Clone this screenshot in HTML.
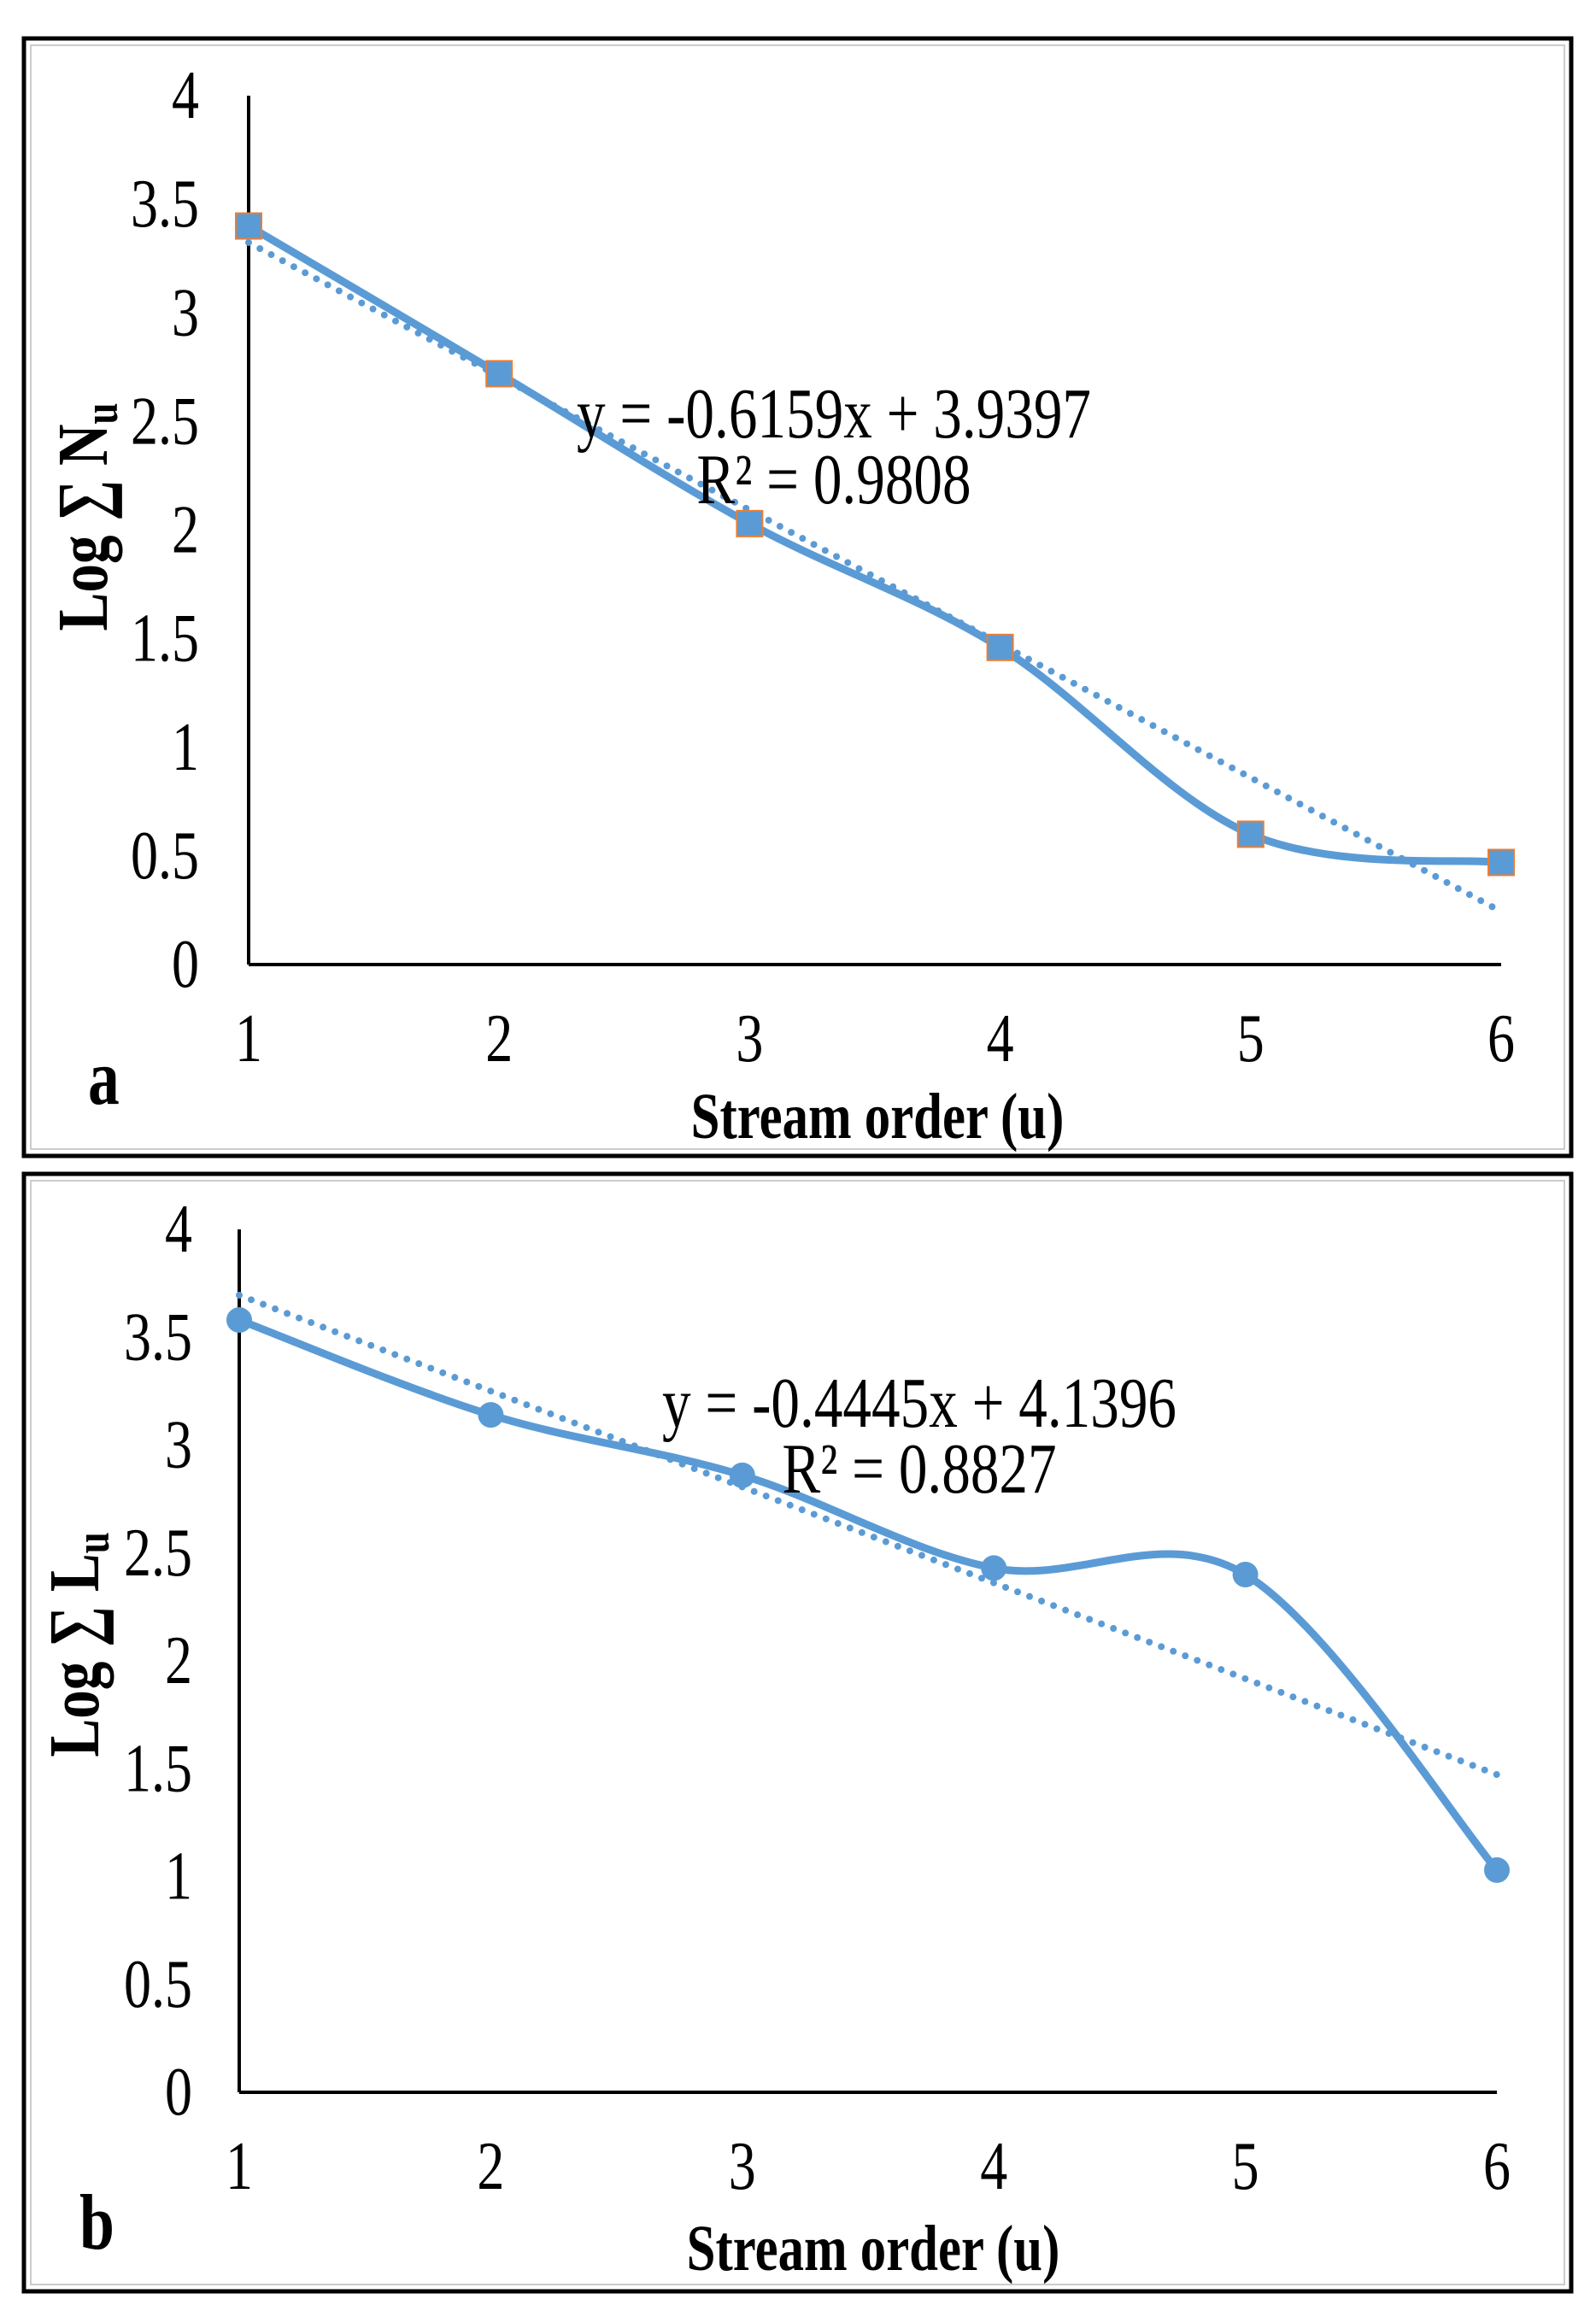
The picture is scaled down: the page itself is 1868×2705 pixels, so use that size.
<!DOCTYPE html>
<html><head><meta charset="utf-8"><style>
html,body{margin:0;padding:0;background:#fff;}
svg{display:block;font-family:"Liberation Serif",serif;}
</style></head><body>
<svg id="s" width="1868" height="2705" viewBox="0 0 1868 2705" xmlns="http://www.w3.org/2000/svg">
<rect x="28" y="45" width="1811" height="1308" fill="#fff" stroke="#000" stroke-width="5"/>
<rect x="36" y="53" width="1795" height="1292" fill="none" stroke="#ccc" stroke-width="2"/>
<rect x="28" y="1374" width="1811" height="1308" fill="#fff" stroke="#000" stroke-width="5"/>
<rect x="36" y="1382" width="1795" height="1292" fill="none" stroke="#ccc" stroke-width="2"/>
</svg>
<script>
const categories=[1,2,3,4,5,6];
const yTicks=[0,0.5,1,1.5,2,2.5,3,3.5,4];
const yTickLabels=["0","0.5","1","1.5","2","2.5","3","3.5","4"];
const seriesA=[3.40,2.72,2.03,1.46,0.60,0.47];
const seriesB=[3.58,3.14,2.86,2.43,2.40,1.03];
const trendA=[-0.6159,3.9397];
const trendB=[-0.4445,4.1396];
const eqA=["y = -0.6159x + 3.9397","R² = 0.9808"];
const eqB=["y = -0.4445x + 4.1396","R² = 0.8827"];
const NS="http://www.w3.org/2000/svg";
const svg=document.getElementById('s');
const SX=0.8;
function mk(t,a,parent){const e=document.createElementNS(NS,t);for(const k in a)e.setAttribute(k,a[k]);(parent||svg).appendChild(e);return e;}
function txt(parent,x,y,s,size,anchor,bold,rot){
  const tr='translate('+x+','+y+')'+(rot?' rotate(-90)':'')+' scale('+SX+',1)';
  const a={transform:tr,'text-anchor':anchor,'font-size':size};
  if(bold)a['font-weight']='bold';
  const e=mk('text',a,parent);e.textContent=s;return e;
}
function draw(cfg){
  const g=mk('g',{});
  
  
  const X=v=>cfg.x0+(v-1)*(cfg.x1-cfg.x0)/5;
  const Y=v=>cfg.y0-v*(cfg.y0-cfg.yTop)/4;
  const ya=mk('line',{x1:cfg.x0,y1:cfg.yTop,x2:cfg.x0,y2:cfg.y0,stroke:'#000','stroke-width':4},g);
  
  const xa=mk('line',{x1:cfg.x0,y1:cfg.y0,x2:cfg.x1,y2:cfg.y0,stroke:'#000','stroke-width':4},g);
  
  yTicks.forEach((t,i)=>{const e=txt(g,cfg.ylabX,Y(t)+26,yTickLabels[i],80,'end');
    });
  categories.forEach(c=>{const e=txt(g,X(c),cfg.xlabY,String(c),80,'middle');
    });
  const tl=mk('line',{x1:X(1),y1:Y(cfg.trend[0]*1+cfg.trend[1]),x2:X(6),y2:Y(cfg.trend[0]*6+cfg.trend[1]),stroke:'#5b9bd5','stroke-width':8,'stroke-dasharray':'0 15','stroke-linecap':'round'},g);
  
  const P=categories.map((c,i)=>[X(c),Y(cfg.data[i])]);
  let d='M'+P[0][0]+','+P[0][1];
  for(let i=0;i<P.length-1;i++){
    const p0=P[Math.max(0,i-1)],p1=P[i],p2=P[i+1],p3=P[Math.min(P.length-1,i+2)];
    const c1=[p1[0]+(p2[0]-p0[0])/6,p1[1]+(p2[1]-p0[1])/6];
    const c2=[p2[0]-(p3[0]-p1[0])/6,p2[1]-(p3[1]-p1[1])/6];
    d+=' C'+c1+' '+c2+' '+p2;
  }
  const ln=mk('path',{d:d,fill:'none',stroke:'#5b9bd5','stroke-width':9},g);
  
  P.forEach(p=>{let m;
    if(cfg.square){m=mk('rect',{x:p[0]-15,y:p[1]-15,width:30,height:30,fill:'#5b9bd5',stroke:'#ed7d31','stroke-width':2},g);}
    else{m=mk('circle',{cx:p[0],cy:p[1],r:15,fill:'#5b9bd5'},g);}
    });
  cfg.eq.forEach((s,i)=>{const e=txt(g,cfg.eqX,cfg.eqY+i*77,s,84,'middle');
    });
  const pl=txt(g,cfg.panelX,cfg.panelY,cfg.panel,92,'start',true);
  
  const xt=txt(g,cfg.xtX,cfg.xtY,'Stream order (u)',76,'middle',true);
  
  const yt=txt(g,cfg.ytX,cfg.ytY,'Log ∑ '+cfg.sym,84,'middle',true,true);
  const sub=mk('tspan',{'font-size':56,dy:12},yt);sub.textContent='u';
  
}
draw({name:'chart-a',x0:291,x1:1757,y0:1129,yTop:112,ylabX:233,xlabY:1242,data:seriesA,trend:trendA,square:true,eq:eqA,eqX:976,eqY:512,panel:'a',panelX:103,panelY:1292,xtX:1027,xtY:1332,ytX:125,ytY:605,sym:'N'});
draw({name:'chart-b',x0:280,x1:1752,y0:2449,yTop:1439,ylabX:225,xlabY:2562,data:seriesB,trend:trendB,square:false,eq:eqB,eqX:1076,eqY:1670,panel:'b',panelX:93,panelY:2632,xtX:1022,xtY:2657,ytX:115,ytY:1925,sym:'L'});
</script>
</body></html>
